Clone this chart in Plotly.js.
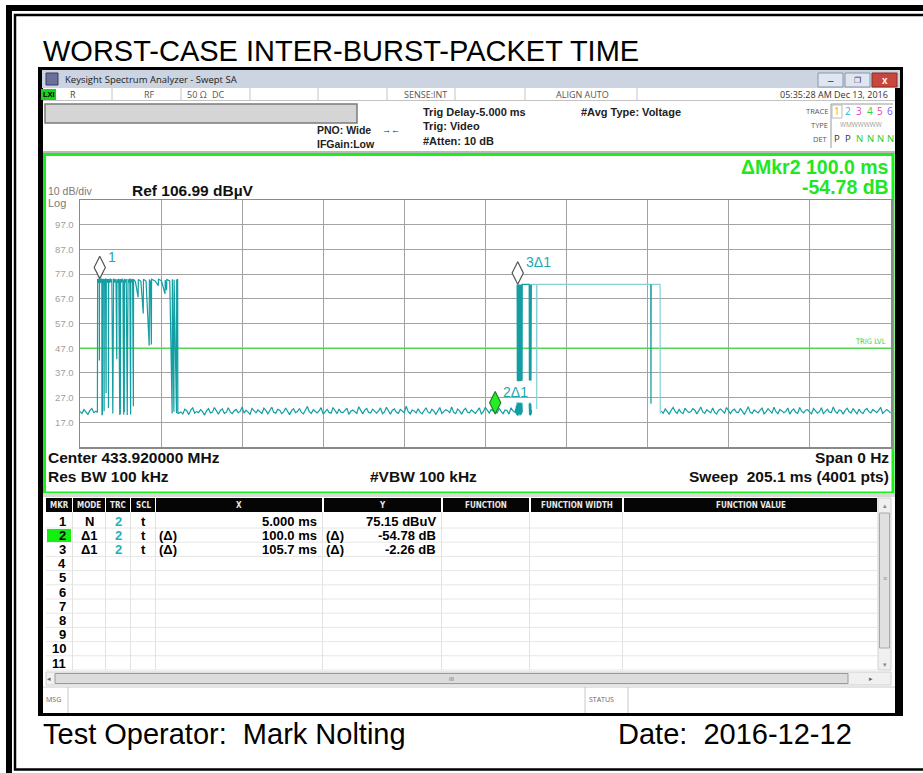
<!DOCTYPE html>
<html>
<head>
<meta charset="utf-8">
<script src="https://cdn.plot.ly/plotly-3.0.1.min.js"></script>
<style>
  html, body { margin: 0; padding: 0; background: #fff; }
  #graph-canvas { width: 923px; height: 773px; }
</style>
</head>
<body>
<div id="graph-canvas"></div>
<script>
// ---- chart values ----
var sweepMs = 205.1;
var refLevel = 106.99;
var trigLevel = 47.0;
var sampleStepMs = 0.5;

var yTickValues = [96.99, 86.99, 76.99, 66.99, 56.99, 46.99, 36.99, 26.99, 16.99];
var yTickLabels = ['97.0', '87.0', '77.0', '67.0', '57.0', '47.0', '37.0', '27.0', '17.0'];

// noise floor before the first burst (starts at 0 ms)
var noisePre = [21.4, 20.6, 22.1, 21.0, 20.2, 21.8, 22.6, 20.9, 21.5];

// first burst (packet train) with its dropouts
var burst1Time = [4.40, 4.45, 4.60, 4.75, 4.88, 4.90, 4.93, 5.10, 5.25, 5.40, 5.52, 5.55, 5.60, 5.68, 5.73, 5.90,
  6.05, 6.10, 6.15, 6.30, 6.45, 6.60, 6.65, 6.85, 7.00, 7.18, 7.20, 7.25, 7.45, 7.65, 7.85, 8.05, 8.30, 8.35,
  8.45, 8.50, 8.70, 8.90, 9.10, 9.30, 9.35, 9.55, 9.80, 10.05, 10.10, 10.20, 10.25, 10.45, 10.65, 10.85, 11.05,
  11.10, 11.20, 11.25, 11.45, 11.70, 11.95, 12.00, 12.10, 12.15, 12.35, 12.60, 12.80, 12.85, 13.05, 13.30, 13.50,
  13.55, 14.00, 14.70, 14.75, 15.40, 16.00, 16.05, 16.70, 17.50, 17.55, 17.80, 18.05, 18.10, 19.00, 19.80, 19.85,
  20.60, 21.50, 21.55, 21.90, 21.95, 22.70, 23.30, 23.35, 23.75, 23.80, 24.40, 24.45, 24.70, 24.75];
var burst1Level = [21.0, 75.0, 73.4, 75.2, 74.0, 42.0, 75.0, 73.3, 75.1, 73.6, 75.2, 19.8, 74.6, 20.5, 75.0, 73.5,
  75.1, 21.5, 74.9, 73.4, 75.2, 28.8, 75.1, 73.5, 75.0, 73.7, 22.8, 75.0, 73.4, 75.2, 73.6, 75.0, 20.6, 74.7,
  21.0, 75.2, 73.5, 75.0, 73.6, 42.5, 75.0, 73.4, 75.1, 19.9, 74.9, 20.3, 75.0, 73.5, 75.2, 73.7, 20.0,
  74.8, 21.2, 75.1, 73.6, 75.0, 19.9, 74.9, 20.4, 75.0, 73.5, 75.1, 20.1, 75.1, 73.7, 75.0, 23.5,
  74.9, 74.0, 67.6, 74.8, 74.1, 61.0, 74.9, 74.2, 48.0, 74.8, 74.0, 48.5, 74.9, 74.2, 72.3, 74.9,
  74.3, 69.0, 74.6, 70.5, 74.8, 74.2, 20.6, 74.9, 21.3, 74.7, 20.8, 74.6, 74.9, 20.5];

// noise floor between the bursts (starts at 25.5 ms)
var noiseMid = [
  21.2, 20.4, 22.3, 21.7, 20.1, 21.9, 22.8, 20.7, 21.4, 20.9,
  22.1, 21.3, 19.9, 21.6, 22.5, 20.8, 21.1, 23.0, 21.5, 20.3,
  21.8, 22.4, 20.6, 21.0, 22.9, 21.2, 20.5, 21.7, 22.2, 20.9,
  21.4, 23.2, 20.7, 21.9, 21.1, 20.2, 22.6, 21.5, 20.8, 22.0,
  21.3, 20.6, 22.7, 21.8, 20.4, 21.6, 23.1, 21.0, 20.7, 22.3,
  21.9, 20.5, 21.2, 22.8, 21.4, 20.1, 21.7, 22.5, 20.9, 21.3,
  22.6, 21.0, 20.4, 21.8, 23.4, 21.2, 20.6, 22.1, 21.5, 20.8,
  21.7, 22.9, 20.3, 21.4, 22.2, 21.0, 20.7, 23.0, 21.6, 20.5,
  22.4, 21.1, 20.9, 21.8, 22.7, 20.2, 21.5, 22.0, 21.3, 20.6,
  23.3, 21.7, 20.4, 21.9, 22.6, 21.0, 20.8, 22.3, 21.4, 20.7,
  21.6, 22.8, 20.5, 21.2, 23.1, 21.5, 20.3, 21.9, 22.4, 21.0,
  20.6, 22.2, 21.7, 20.9, 23.5, 21.3, 20.5, 22.0, 21.6, 20.8,
  22.5, 21.1, 20.4, 21.8, 22.9, 21.2, 20.7, 22.3, 21.5, 20.2,
  21.9, 23.0, 20.6, 21.4, 22.1, 21.7, 20.9, 23.2, 21.0, 20.5,
  22.4, 21.6, 20.3, 21.8, 22.7, 21.1, 20.8, 22.0, 21.4, 20.6,
  21.7, 22.8, 20.4, 21.3, 23.1, 21.9, 20.7, 22.2, 21.5, 21.0,
  20.8, 22.6, 21.4, 20.5, 22.0, 21.8, 20.3, 22.9, 21.6, 21.2];

// second burst, dark (dense) strokes; null = pen up
var burst2DarkTime = [
  110.05, 110.15, 110.25, 110.35, 110.45, 110.55, 110.65, 110.75, 110.85, 110.95, 111.05, 111.15, 111.25, 111.35,
  111.45, 111.55, 111.65, 111.75, 111.85, null,
  110.55, 110.60, 110.65, 110.70, 110.75, 110.80, 110.85, 110.90, 110.95, 111.00, 111.05, 111.10, 111.15, 111.20,
  111.25, 111.30, 111.35, 111.40, 111.45, 111.50, 111.55, 111.60, 111.65, 111.70, 111.75, 111.80, 111.85,
  113.60, 113.65, 113.75, 113.85, 113.95, 114.05, 114.15, null,
  113.60, 113.70, 113.80, 113.90, 114.00, 114.10, 114.20, null,
  144.35, 144.40, 144.45];
var burst2DarkLevel = [
  21.0, 22.4, 20.6, 23.8, 20.0, 25.0, 19.7, 24.6, 20.2, 25.0, 19.8, 24.8, 20.5, 25.0,
  19.9, 24.4, 20.3, 24.9, 21.0, null,
  72.8, 33.8, 72.8, 34.2, 72.8, 33.6, 72.8, 34.0, 72.8, 33.8, 72.8, 34.1, 72.8, 33.7,
  72.8, 33.9, 72.8, 34.0, 72.8, 33.8, 72.8, 33.9, 72.8, 33.7, 72.8, 34.0, 72.8,
  72.8, 33.9, 72.8, 34.0, 72.8, 33.8, 72.8, null,
  24.6, 20.0, 24.9, 19.8, 24.5, 20.2, 22.0, null,
  72.8, 24.5, 72.8];

// second burst, faint top line
var burst2LightTime = [114.15, 115.45, 115.50, 115.55, 146.70, 146.75];
var burst2LightLevel = [72.8, 72.8, 22.4, 72.8, 72.8, 20.6];

// noise floor after the second burst (starts at 147.0 ms)
var noisePost = [
  21.5, 20.7, 22.4, 21.1, 20.3, 21.8, 23.0, 21.4, 20.6, 22.2,
  21.0, 20.5, 22.7, 21.6, 20.9, 21.3, 22.5, 21.9, 20.4, 21.7,
  23.2, 21.2, 20.6, 22.1, 21.5, 20.8, 22.8, 21.0, 20.3, 21.9,
  22.4, 21.3, 20.7, 23.0, 21.6, 20.5, 21.8, 22.3, 21.1, 20.9,
  22.6, 21.4, 20.2, 21.7, 23.3, 21.0, 20.6, 22.0, 21.5, 20.8,
  21.9, 22.7, 20.4, 21.2, 22.5, 21.8, 20.7, 23.1, 21.3, 20.5,
  22.2, 21.6, 20.9, 21.4, 22.8, 20.3, 21.7, 22.4, 21.0, 20.6,
  23.0, 21.5, 20.8, 21.9, 22.1, 21.2, 20.4, 22.6, 21.8, 20.7,
  21.3, 22.9, 20.5, 21.6, 22.3, 21.1, 20.9, 23.2, 21.4, 20.6,
  22.0, 21.7, 20.3, 21.8, 22.7, 21.2, 20.8, 22.5, 21.5, 20.4,
  22.3, 21.1, 20.5, 21.9, 22.6, 21.3, 20.8, 22.1, 21.6, 20.9,
  21.9, 23.0, 20.6, 21.3, 22.2, 21.6, 20.7];

// markers
var markerTimeMs = [5.0, 105.0, 110.7];
var markerLevel = [75.15, 20.37, 72.89];
var markerNames = ['1', '2\u03941', '3\u03941'];

// marker table
var tableHeads = ['MKR', 'MODE', 'TRC', 'SCL', 'X', 'Y', 'FUNCTION', 'FUNCTION WIDTH', 'FUNCTION VALUE'];
var mkrNumbers = ['1', '2', '3', '4', '5', '6', '7', '8', '9', '10', '11'];
var mkrMode = ['N', '\u03941', '\u03941'];
var mkrTrace = ['2', '2', '2'];
var mkrScale = ['t', 't', 't'];
var mkrXFunc = ['', '(\u0394)', '(\u0394)'];
var mkrX = ['5.000 ms', '100.0 ms', '105.7 ms'];
var mkrYFunc = ['', '(\u0394)', '(\u0394)'];
var mkrY = ['75.15 dBuV', '-54.78 dB', '-2.26 dB'];

// ---- page geometry helpers ----
var W = 923, H = 773;
var SANS = 'Liberation Sans, Arial, sans-serif';
var UI = 'Open Sans, Noto Sans, sans-serif';
var NARROW = 'Liberation Sans Narrow, DejaVu Sans Condensed, Arial, sans-serif';
var plotLeft = 80, plotRight = 891, plotTop = 200, plotBottom = 447;
var traceColor = '#129ea3';
var green = '#22e622';

function px(x) { return x / W; }
function py(y) { return 1 - y / H; }

var shapes = [];
var notes = [];

function rect(x0, y0, x1, y1, fill, lineColor, lineWidth) {
    shapes.push({
        type: 'rect', xref: 'paper', yref: 'paper', layer: 'below',
        x0: px(x0), x1: px(x1), y0: py(y1), y1: py(y0),
        fillcolor: fill || 'rgba(0,0,0,0)',
        line: { color: lineColor || 'rgba(0,0,0,0)', width: lineWidth || 0 }
    });
}
function seg(x0, y0, x1, y1, color, width) {
    shapes.push({
        type: 'line', xref: 'paper', yref: 'paper', layer: 'below',
        x0: px(x0), x1: px(x1), y0: py(y0), y1: py(y1),
        line: { color: color, width: width || 1 }
    });
}
function text(x, y, str, size, opts) {
    opts = opts || {};
    notes.push({
        xref: 'paper', yref: 'paper', x: px(x), y: py(y), text: str, showarrow: false,
        xanchor: opts.anchor || 'left', yanchor: 'middle', borderpad: 0,
        font: { family: opts.family || SANS, size: size, color: opts.color || '#000' }
    });
}

// ---- frames ----
rect(9, 8, 940, 790, null, '#000', 6);
rect(15, 15, 935, 769.5, null, '#000', 2.5);

// analyzer window
rect(38, 67, 903, 716, '#000');
rect(42, 70, 900, 88, '#cbd4e0');
rect(43, 88, 895, 713, '#fff');
rect(46, 73, 58, 85, '#6b6f99', '#3a3d60', 1);
text(64, 79, 'Keysight Spectrum Analyzer - Swept SA', 9.5, { family: UI, color: '#1b1b1b' });
rect(818, 73, 843, 87, '#dfe6ef', '#8597b0', 1);
rect(845, 73, 870, 87, '#dfe6ef', '#8597b0', 1);
rect(872, 73, 897, 87, '#c9463d', '#8a2b25', 1);
text(830.5, 80, '\u2013', 10, { anchor: 'center', color: '#334' });
text(857.5, 80, '\u2750', 8, { anchor: 'center', color: '#334' });
text(884.5, 80, '<b>x</b>', 10, { anchor: 'center', color: '#fff' });

// status row
rect(41, 89, 56, 100, '#1bd11b');
text(48.5, 94.5, '<b>LXI</b>', 7.5, { anchor: 'center' });
[112, 181, 250, 318, 387, 455, 525, 637].forEach(function (x) { seg(x, 88, x, 100, '#c4c4c4', 1); });
seg(43, 100.5, 895, 100.5, '#c4c4c4', 1);
text(69, 94.5, 'R', 9, { family: UI, color: '#444' });
text(143, 94.5, 'RF', 9, { family: UI, color: '#555' });
text(186, 94.5, '50 \u03a9', 9, { family: UI, color: '#555' });
text(211, 94.5, 'DC', 9, { family: UI, color: '#555' });
text(403, 94.5, 'SENSE:INT', 9, { family: UI, color: '#555' });
text(555, 94.5, 'ALIGN AUTO', 9, { family: UI, color: '#555' });
text(889, 94.5, '05:35:28 AM Dec 13, 2016', 9, { family: UI, color: '#333', anchor: 'right' });

// settings row
rect(45, 104, 357, 123, '#d5d5d5', '#7b7b7b', 1.5);
text(316, 130, '<b>PNO: Wide</b>', 10.5, { color: '#222' });
text(316, 144, '<b>IFGain:Low</b>', 10.5, { color: '#222' });
text(391, 130, '\u2192\u2190', 9, { anchor: 'center', color: '#222' });
text(422, 112, '<b>Trig Delay-5.000 ms</b>', 11, { color: '#222' });
text(422, 126, '<b>Trig: Video</b>', 11, { color: '#222' });
text(422, 141, '<b>#Atten: 10 dB</b>', 11, { color: '#222' });
text(580, 112, '<b>#Avg Type: Voltage</b>', 11, { color: '#222' });
seg(831, 104, 831, 148, '#9a9a9a', 1);
seg(831, 104, 893, 104, '#9a9a9a', 1);
text(829, 111, 'TRACE', 7.5, { anchor: 'right', family: UI, color: '#555' });
text(829, 125, 'TYPE', 7.5, { anchor: 'right', family: UI, color: '#555' });
text(829, 139, 'DET', 7.5, { anchor: 'right', family: UI, color: '#555' });
rect(832, 105, 842, 118, null, '#bbb', 1);
var traceNumColors = ['#f0a020', '#20c0e0', '#f040d0', '#30d040', '#f04090', '#8050ff'];
var traceNumX = [837, 848, 859, 870, 880, 890];
traceNumX.forEach(function (x, i) { text(x, 111, String(i + 1), 10, { anchor: 'center', family: UI, color: traceNumColors[i] }); });
text(861, 125, 'WMWWWWW', 6.5, { anchor: 'center', family: UI, color: '#9a9a9a' });
['P', 'P', 'N', 'N', 'N', 'N'].forEach(function (d, i) {
    text(traceNumX[i], 139, d, 9.5, { anchor: 'center', family: UI, color: i < 2 ? '#333' : '#22cc22' });
});
seg(43, 152, 895, 152, '#b8b8b8', 2);

// plot panel
rect(44.5, 154.5, 893, 493, '#fff', '#19f019', 3);
text(890, 167, '<b>\u0394Mkr2 100.0 ms</b>', 19.5, { anchor: 'right', color: green });
text(890, 187, '<b>-54.78 dB</b>', 19.5, { anchor: 'right', color: green });
text(47, 191.5, '10 dB/div', 10.5, { color: '#7a7a7a' });
text(47, 203, 'Log', 11, { color: '#7a7a7a' });
text(131, 191, '<b>Ref 106.99 dB\u00b5V</b>', 15.5, { color: '#111' });
text(47, 457, '<b>Center 433.920000 MHz</b>', 15.5, { color: '#111' });
text(47, 476, '<b>Res BW 100 kHz</b>', 15.5, { color: '#111' });
text(423, 476, '<b>#VBW 100 kHz</b>', 15.5, { anchor: 'center', color: '#111' });
text(890, 457, '<b>Span 0 Hz</b>', 15.5, { anchor: 'right', color: '#111' });
text(890, 476, '<b>Sweep\u00a0\u00a0205.1 ms (4001 pts)</b>', 15.5, { anchor: 'right', color: '#111' });

// marker table
rect(43, 493, 895, 497, '#d8d8d8');
var colLeft = [46, 73, 106, 131, 156, 324, 443, 531, 624];
var colRight = [72, 105, 130, 155, 322, 441, 529, 622, 877];
tableHeads.forEach(function (h, i) {
    rect(colLeft[i], 498, colRight[i], 512, '#050505');
    text((colLeft[i] + colRight[i]) / 2, 505, '<b>' + h + '</b>', 8, { anchor: 'center', family: NARROW, color: '#e8e8e8' });
});
var rowY = mkrNumbers.map(function (n, i) { return 521 + 14.2 * i; });
rowY.forEach(function (y) { seg(46, y + 7, 877, y + 7, '#e6e6e6', 1); });
colRight.slice(0, 8).forEach(function (x) { seg(x + 0.5, 512, x + 0.5, 670, '#e2e2e2', 1); });
rect(47, 529, 71, 542, '#11f011');
mkrNumbers.forEach(function (n, i) { text(67, rowY[i], '<b>' + n + '</b>', 13, { anchor: 'right' }); });
mkrMode.forEach(function (m, i) {
    text(89, rowY[i], '<b>' + m + '</b>', 13, { anchor: 'center' });
    text(118, rowY[i], '<b>' + mkrTrace[i] + '</b>', 13, { anchor: 'center', color: '#22b2c2' });
    text(143, rowY[i], '<b>' + mkrScale[i] + '</b>', 13, { anchor: 'center' });
    if (mkrXFunc[i]) text(158, rowY[i], '<b>' + mkrXFunc[i] + '</b>', 13);
    text(318, rowY[i], '<b>' + mkrX[i] + '</b>', 13, { anchor: 'right' });
    if (mkrYFunc[i]) text(325, rowY[i], '<b>' + mkrYFunc[i] + '</b>', 13);
    text(437, rowY[i], '<b>' + mkrY[i] + '</b>', 13, { anchor: 'right' });
});
// scrollbars
rect(878, 498, 891, 670, '#f0f0f0', '#d0d0d0', 1);
rect(879.5, 513, 889.5, 648, '#e0e0e0', '#a8a8a8', 1);
text(884.5, 505, '\u25b4', 7, { anchor: 'center', color: '#888' });
text(884.5, 664, '\u25be', 7, { anchor: 'center', color: '#888' });
text(884.5, 578, '\u2261', 7, { anchor: 'center', color: '#888' });
rect(46, 672, 891, 685, '#f0f0f0', '#d0d0d0', 1);
rect(55, 673.5, 848, 683.5, '#dcdcdc', '#9a9a9a', 1);
text(49, 678.5, '\u25c2', 7, { anchor: 'center', color: '#666' });
text(871, 678.5, '\u25b8', 7, { anchor: 'center', color: '#666' });
text(451, 678.5, 'III', 6, { anchor: 'center', color: '#777' });
// message bar
seg(43, 687, 895, 687, '#c8c8c8', 1);
seg(68, 687, 68, 713, '#c8c8c8', 1);
seg(585, 687, 585, 713, '#c8c8c8', 1);
seg(628, 687, 628, 713, '#c8c8c8', 1);
text(45, 699, 'MSG', 7, { family: UI, color: '#666' });
text(588, 699, 'STATUS', 7, { family: UI, color: '#666' });

// page captions
text(42, 51, 'WORST-CASE INTER-BURST-PACKET TIME', 29);
text(42, 734, 'Test Operator:\u00a0\u00a0Mark Nolting', 29);
text(617, 734, 'Date:\u00a0\u00a02016-12-12', 29);

// ---- traces ----
function sampled(startMs, levels) {
    return levels.map(function (v, i) { return startMs + i * sampleStepMs; });
}
var darkX = [].concat(sampled(0, noisePre), burst1Time, sampled(25.5, noiseMid), burst2DarkTime, [null], sampled(147.0, noisePost));
var darkY = [].concat(noisePre, burst1Level, noiseMid, burst2DarkLevel, [null], noisePost);

var pxPerDb = (plotBottom - plotTop) / 100;
var markerSize = 16;
var lift = (1.4 * markerSize / 2) / pxPerDb;

var data = [
    {
        type: 'scatter', mode: 'lines', hoverinfo: 'skip',
        x: [0, sweepMs], y: [trigLevel, trigLevel],
        line: { color: '#3be83b', width: 1.3 }
    },
    {
        type: 'scatter', mode: 'lines', hoverinfo: 'skip',
        x: burst2LightTime, y: burst2LightLevel,
        line: { color: '#86d2d5', width: 1.2 }
    },
    {
        type: 'scatter', mode: 'lines', hoverinfo: 'skip', connectgaps: false,
        x: darkX, y: darkY,
        line: { color: traceColor, width: 1.2 }
    },
    {
        type: 'scatter', mode: 'markers', hoverinfo: 'skip',
        x: markerTimeMs,
        y: markerLevel.map(function (v) { return v + lift; }),
        marker: {
            symbol: 'diamond-tall', size: markerSize,
            color: ['#ffffff', '#22ee22', '#ffffff'],
            line: { color: ['#555555', '#2a7a2a', '#555555'], width: 1.2 }
        }
    }
];

markerNames.forEach(function (name, i) {
    notes.push({
        xref: 'x', yref: 'y', x: markerTimeMs[i], y: markerLevel[i], text: name,
        showarrow: false, xanchor: 'left', yanchor: 'middle', xshift: 6, yshift: 22,
        font: { family: SANS, size: 14, color: '#1ea7b0' }
    });
});
notes.push({
    xref: 'x', yref: 'y', x: sweepMs, y: trigLevel, text: 'TRIG LVL',
    showarrow: false, xanchor: 'right', yanchor: 'middle', xshift: -3, yshift: 7,
    font: { family: NARROW, size: 7.5, color: '#38d838' }
});

var layout = {
    width: W, height: H,
    margin: { l: 0, r: 0, t: 0, b: 0 },
    paper_bgcolor: '#ffffff',
    plot_bgcolor: 'rgba(0,0,0,0)',
    showlegend: false,
    xaxis: {
        domain: [px(plotLeft), px(plotRight)],
        range: [0, sweepMs],
        tick0: 0, dtick: sweepMs / 10,
        showticklabels: false, ticks: '',
        showgrid: true, gridcolor: '#a3a3a3', gridwidth: 1,
        zeroline: false, showline: true, mirror: true,
        linecolor: '#8a8a8a', linewidth: 1.5, fixedrange: true
    },
    yaxis: {
        domain: [py(plotBottom), py(plotTop)],
        range: [refLevel - 100, refLevel],
        tickvals: yTickValues, ticktext: yTickLabels,
        tickfont: { family: SANS, size: 9.5, color: '#a0a0a0' },
        ticks: '', ticklabelstandoff: 3,
        showgrid: true, gridcolor: '#a3a3a3', gridwidth: 1,
        zeroline: false, showline: true, mirror: true,
        linecolor: '#8a8a8a', linewidth: 1.5, fixedrange: true
    },
    shapes: shapes,
    annotations: notes
};

Plotly.newPlot('graph-canvas', data, layout, { displayModeBar: false, staticPlot: true });
</script>
</body>
</html>
